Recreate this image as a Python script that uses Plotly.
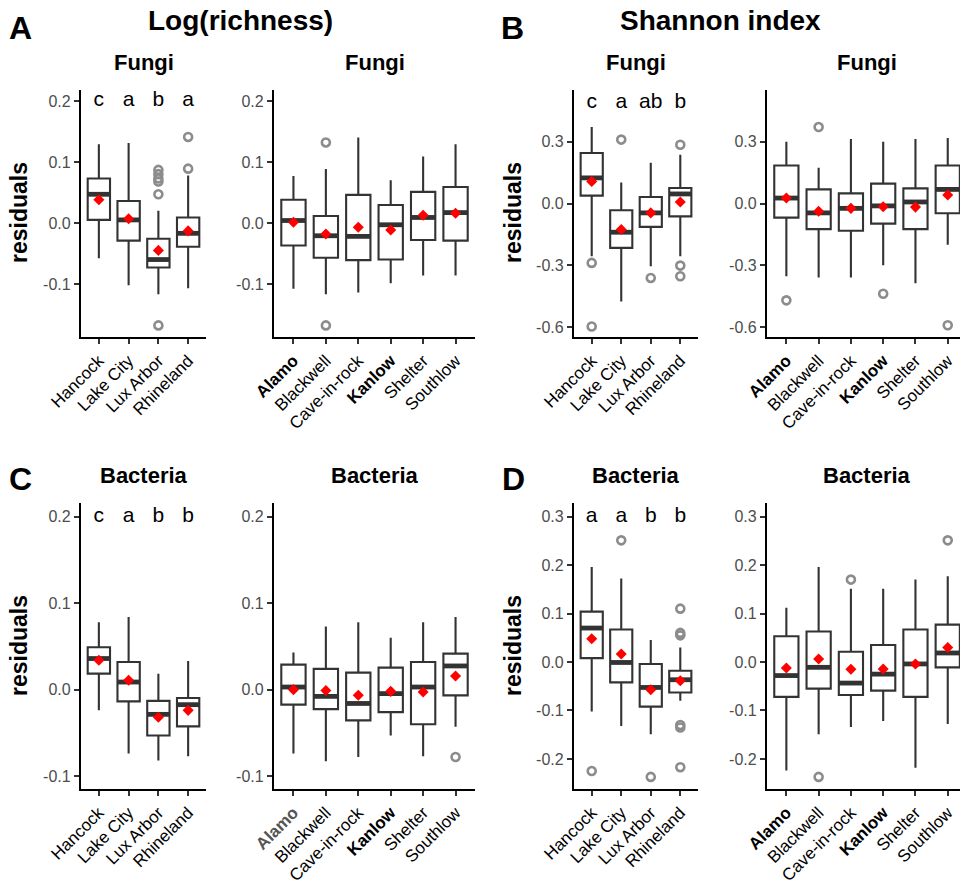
import plotly.graph_objects as go

W, H = 960, 885
FONT = "Liberation Sans, Arial, sans-serif"

# ---------------- data ----------------
sites4 = ["Hancock", "Lake City", "Lux Arbor", "Rhineland"]
cult6 = ["Alamo", "Blackwell", "Cave-in-rock", "Kanlow", "Shelter", "Southlow"]
cult6_labels = ["<b>Alamo</b>", "Blackwell", "Cave-in-rock", "<b>Kanlow</b>", "Shelter", "Southlow"]
cult6_labels_c = ["<b><span style='color:#555555'>Alamo</span></b>", "Blackwell", "Cave-in-rock", "<b>Kanlow</b>", "Shelter", "Southlow"]

# Panel A left: Fungi log(richness) by site
A_L_low = [-0.058, -0.102, -0.117, -0.107]
A_L_q1 = [0.005, -0.029, -0.073, -0.039]
A_L_med = [0.047, 0.005, -0.060, -0.017]
A_L_q3 = [0.073, 0.036, -0.026, 0.009]
A_L_up = [0.129, 0.131, 0.020, 0.078]
A_L_mean = [0.038, 0.007, -0.045, -0.013]
A_L_out_cat = ["Lux Arbor", "Lux Arbor", "Lux Arbor", "Lux Arbor", "Lux Arbor", "Lux Arbor", "Rhineland", "Rhineland"]
A_L_out_val = [0.087, 0.080, 0.073, 0.068, 0.047, -0.168, 0.141, 0.089]
A_L_letters = ["c", "a", "b", "a"]

# Panel A right: Fungi log(richness) by cultivar
A_R_low = [-0.108, -0.117, -0.114, -0.099, -0.086, -0.086]
A_R_q1 = [-0.037, -0.057, -0.061, -0.060, -0.028, -0.029]
A_R_med = [0.004, -0.021, -0.022, -0.003, 0.009, 0.017]
A_R_q3 = [0.038, 0.0115, 0.046, 0.0295, 0.051, 0.059]
A_R_up = [0.077, 0.0885, 0.140, 0.070, 0.109, 0.129]
A_R_mean = [0.001, -0.018, -0.007, -0.0115, 0.0126, 0.016]
A_R_out_cat = ["Blackwell", "Blackwell"]
A_R_out_val = [0.132, -0.168]

# Panel B left: Fungi Shannon by site
B_L_low = [-0.256, -0.475, -0.304, -0.256]
B_L_q1 = [0.039, -0.215, -0.113, -0.062]
B_L_med = [0.125, -0.139, -0.045, 0.047]
B_L_q3 = [0.246, -0.032, 0.0325, 0.076]
B_L_up = [0.372, 0.103, 0.198, 0.238]
B_L_mean = [0.108, -0.126, -0.045, 0.008]
B_L_out_cat = ["Hancock", "Hancock", "Lake City", "Lux Arbor", "Rhineland", "Rhineland", "Rhineland"]
B_L_out_val = [-0.288, -0.597, 0.311, -0.361, 0.286, -0.301, -0.353]
B_L_letters = ["c", "a", "ab", "b"]

# Panel B right: Fungi Shannon by cultivar
B_R_low = [-0.353, -0.359, -0.359, -0.300, -0.387, -0.200]
B_R_q1 = [-0.068, -0.124, -0.132, -0.097, -0.124, -0.047]
B_R_med = [0.027, -0.045, -0.023, -0.011, 0.008, 0.069]
B_R_q3 = [0.185, 0.069, 0.050, 0.097, 0.074, 0.185]
B_R_up = [0.300, 0.174, 0.314, 0.300, 0.314, 0.319]
B_R_mean = [0.027, -0.037, -0.023, -0.015, -0.017, 0.042]
B_R_out_cat = ["Alamo", "Blackwell", "Kanlow", "Southlow"]
B_R_out_val = [-0.470, 0.372, -0.438, -0.591]

# Panel C left: Bacteria log(richness) by site
C_L_low = [-0.024, -0.074, -0.082, -0.077]
C_L_q1 = [0.0185, -0.0136, -0.053, -0.0425]
C_L_med = [0.036, 0.0088, -0.0286, -0.0174]
C_L_q3 = [0.049, 0.032, -0.013, -0.0097]
C_L_up = [0.078, 0.084, 0.0185, 0.033]
C_L_mean = [0.034, 0.0108, -0.032, -0.024]
C_L_out_cat = []
C_L_out_val = []
C_L_letters = ["c", "a", "b", "b"]

# Panel C right: Bacteria log(richness) by cultivar
C_R_low = [-0.074, -0.083, -0.078, -0.053, -0.077, -0.043]
C_R_q1 = [-0.0174, -0.0225, -0.0356, -0.026, -0.040, -0.0066]
C_R_med = [0.003, -0.0078, -0.016, -0.0046, 0.003, 0.0274]
C_R_q3 = [0.029, 0.024, 0.0197, 0.0255, 0.032, 0.0417]
C_R_up = [0.043, 0.073, 0.078, 0.060, 0.078, 0.084]
C_R_mean = [0.000, -0.001, -0.0066, -0.002, -0.0028, 0.0158]
C_R_out_cat = ["Southlow"]
C_R_out_val = [-0.078]

# Panel D left: Bacteria Shannon by site
D_L_low = [-0.102, -0.132, -0.149, -0.080]
D_L_q1 = [0.008, -0.042, -0.092, -0.063]
D_L_med = [0.070, -0.001, -0.0525, -0.0366]
D_L_q3 = [0.104, 0.067, -0.004, -0.018]
D_L_up = [0.196, 0.172, 0.0455, 0.030]
D_L_mean = [0.048, 0.0166, -0.0573, -0.0387]
D_L_out_cat = ["Hancock", "Lake City", "Lux Arbor", "Rhineland", "Rhineland", "Rhineland",
               "Rhineland", "Rhineland", "Rhineland"]
D_L_out_val = [-0.225, 0.251, -0.237, 0.110, 0.060, 0.055, -0.130, -0.135, -0.217]
D_L_letters = ["a", "a", "b", "b"]

# Panel D right: Bacteria Shannon by cultivar
D_R_low = [-0.224, -0.149, -0.134, -0.1215, -0.218, -0.128]
D_R_q1 = [-0.072, -0.055, -0.068, -0.059, -0.072, -0.011]
D_R_med = [-0.028, -0.011, -0.0435, -0.025, -0.004, 0.0186]
D_R_q3 = [0.053, 0.063, 0.021, 0.035, 0.067, 0.077]
D_R_up = [0.112, 0.196, 0.151, 0.151, 0.170, 0.177]
D_R_mean = [-0.0124, 0.006, -0.015, -0.0145, -0.004, 0.030]
D_R_out_cat = ["Blackwell", "Cave-in-rock", "Southlow"]
D_R_out_val = [-0.237, 0.170, 0.251]

# axis ticks
tick_rich = [-0.1, 0.0, 0.1, 0.2]
tick_rich_txt = ["-0.1", "0.0", "0.1", "0.2"]
tick_shF = [-0.6, -0.3, 0.0, 0.3]
tick_shF_txt = ["-0.6", "-0.3", "0.0", "0.3"]
tick_shB = [-0.2, -0.1, 0.0, 0.1, 0.2, 0.3]
tick_shB_txt = ["-0.2", "-0.1", "0.0", "0.1", "0.2", "0.3"]

# ---------------- layout helpers ----------------
def px_x(p):
    return p / W

def px_y(p):
    return 1 - p / H

BOX_W = 0.75
DARK = "#333333"

panels = [
    dict(cats=sites4, labels=sites4, low=A_L_low, q1=A_L_q1, med=A_L_med, q3=A_L_q3, up=A_L_up, mean=A_L_mean,
         oc=A_L_out_cat, ov=A_L_out_val, letters=A_L_letters, ly=0.2, xd=(81, 206), yd=(90, 337),
         yr=(-0.187, 0.218), xr=(0.4, 4.6), tv=tick_rich, tt=tick_rich_txt, title="Fungi", ty=62),
    dict(cats=cult6, labels=cult6_labels, low=A_R_low, q1=A_R_q1, med=A_R_med, q3=A_R_q3, up=A_R_up, mean=A_R_mean,
         oc=A_R_out_cat, ov=A_R_out_val, letters=None, ly=None, xd=(274, 475), yd=(90, 337),
         yr=(-0.187, 0.218), xr=(0.4, 6.6), tv=tick_rich, tt=tick_rich_txt, title="Fungi", ty=62),
    dict(cats=sites4, labels=sites4, low=B_L_low, q1=B_L_q1, med=B_L_med, q3=B_L_q3, up=B_L_up, mean=B_L_mean,
         oc=B_L_out_cat, ov=B_L_out_val, letters=B_L_letters, ly=0.49, xd=(574, 698), yd=(90, 337),
         yr=(-0.648, 0.552), xr=(0.4, 4.6), tv=tick_shF, tt=tick_shF_txt, title="Fungi", ty=62),
    dict(cats=cult6, labels=cult6_labels, low=B_R_low, q1=B_R_q1, med=B_R_med, q3=B_R_q3, up=B_R_up, mean=B_R_mean,
         oc=B_R_out_cat, ov=B_R_out_val, letters=None, ly=None, xd=(767, 960), yd=(90, 337),
         yr=(-0.648, 0.552), xr=(0.4, 6.38), tv=tick_shF, tt=tick_shF_txt, title="Fungi", ty=62, tcx=867),
    dict(cats=sites4, labels=sites4, low=C_L_low, q1=C_L_q1, med=C_L_med, q3=C_L_q3, up=C_L_up, mean=C_L_mean,
         oc=C_L_out_cat, ov=C_L_out_val, letters=C_L_letters, ly=0.2, xd=(81, 206), yd=(503, 789),
         yr=(-0.115, 0.216), xr=(0.4, 4.6), tv=tick_rich, tt=tick_rich_txt, title="Bacteria", ty=475),
    dict(cats=cult6, labels=cult6_labels_c, low=C_R_low, q1=C_R_q1, med=C_R_med, q3=C_R_q3, up=C_R_up, mean=C_R_mean,
         oc=C_R_out_cat, ov=C_R_out_val, letters=None, ly=None, xd=(274, 475), yd=(503, 789),
         yr=(-0.115, 0.216), xr=(0.4, 6.6), tv=tick_rich, tt=tick_rich_txt, title="Bacteria", ty=475),
    dict(cats=sites4, labels=sites4, low=D_L_low, q1=D_L_q1, med=D_L_med, q3=D_L_q3, up=D_L_up, mean=D_L_mean,
         oc=D_L_out_cat, ov=D_L_out_val, letters=D_L_letters, ly=0.3, xd=(574, 698), yd=(503, 789),
         yr=(-0.262, 0.328), xr=(0.4, 4.6), tv=tick_shB, tt=tick_shB_txt, title="Bacteria", ty=475),
    dict(cats=cult6, labels=cult6_labels, low=D_R_low, q1=D_R_q1, med=D_R_med, q3=D_R_q3, up=D_R_up, mean=D_R_mean,
         oc=D_R_out_cat, ov=D_R_out_val, letters=None, ly=None, xd=(767, 960), yd=(503, 789),
         yr=(-0.262, 0.328), xr=(0.4, 6.38), tv=tick_shB, tt=tick_shB_txt, title="Bacteria", ty=475, tcx=867),
]

fig = go.Figure()
layout = dict(
    width=W, height=H, margin=dict(l=0, r=0, t=0, b=0, pad=0, autoexpand=False),
    paper_bgcolor="white", plot_bgcolor="white", showlegend=False,
    font=dict(family=FONT, color="black"),
)
annotations = []

for i, p in enumerate(panels):
    n = i + 1
    xa = "x" if n == 1 else f"x{n}"
    ya = "y" if n == 1 else f"y{n}"
    pos = list(range(1, len(p["cats"]) + 1))
    idx = {c: k + 1 for k, c in enumerate(p["cats"])}

    fig.add_trace(go.Box(
        x=pos, q1=p["q1"], median=p["med"], q3=p["q3"],
        lowerfence=p["low"], upperfence=p["up"],
        width=BOX_W, whiskerwidth=0, boxpoints=False,
        fillcolor="white", line=dict(color=DARK, width=2.1),
        xaxis=xa, yaxis=ya, hoverinfo="skip",
    ))
    # thick median lines
    mx, my = [], []
    for xp, m in zip(pos, p["med"]):
        mx += [xp - BOX_W / 2, xp + BOX_W / 2, None]
        my += [m, m, None]
    fig.add_trace(go.Scatter(x=mx, y=my, mode="lines", line=dict(color=DARK, width=4.8),
                             xaxis=xa, yaxis=ya, hoverinfo="skip"))
    # outliers
    if p["oc"]:
        fig.add_trace(go.Scatter(
            x=[idx[c] for c in p["oc"]], y=p["ov"], mode="markers",
            marker=dict(symbol="circle-open", size=8, color="#8c8c8c", line=dict(width=2.6, color="#8c8c8c")),
            xaxis=xa, yaxis=ya, hoverinfo="skip"))
    # means
    fig.add_trace(go.Scatter(
        x=pos, y=p["mean"], mode="markers",
        marker=dict(symbol="diamond", size=8.5, color="#ff0000", line=dict(width=0)),
        xaxis=xa, yaxis=ya, hoverinfo="skip"))
    # significance letters
    if p["letters"]:
        fig.add_trace(go.Scatter(
            x=pos, y=[p["ly"]] * len(pos), mode="text", text=p["letters"],
            textfont=dict(size=21, color="black", family=FONT), textposition="middle center",
            xaxis=xa, yaxis=ya, hoverinfo="skip"))

    axis_common = dict(showgrid=False, zeroline=False, showline=True, linecolor="black", linewidth=2.2,
                       ticks="outside", tickcolor=DARK, tickwidth=2, ticklen=5, automargin=False)
    layout["xaxis" if n == 1 else f"xaxis{n}"] = dict(
        axis_common, domain=[px_x(p["xd"][0]), px_x(p["xd"][1])], range=list(p["xr"]),
        anchor=ya, tickmode="array", tickvals=pos, ticktext=p["labels"], tickangle=-45,
        tickfont=dict(size=17, color="black", family=FONT))
    layout["yaxis" if n == 1 else f"yaxis{n}"] = dict(
        axis_common, domain=[px_y(p["yd"][1]), px_y(p["yd"][0])], range=list(p["yr"]),
        anchor=xa, tickmode="array", tickvals=p["tv"], ticktext=p["tt"],
        tickfont=dict(size=16, color="#4d4d4d", family=FONT))
    cx = p.get("tcx", (p["xd"][0] + p["xd"][1]) / 2)
    annotations.append(dict(text="<b>" + p["title"] + "</b>", x=px_x(cx), y=px_y(p["ty"]),
                            xref="paper", yref="paper", showarrow=False, xanchor="center", yanchor="middle",
                            font=dict(size=22, color="black", family=FONT)))

# y-axis titles
for (x, y) in [(19, 213), (513, 213), (19, 646), (513, 646)]:
    annotations.append(dict(text="<b>residuals</b>", x=px_x(x), y=px_y(y), xref="paper", yref="paper",
                            showarrow=False, textangle=-90, xanchor="center", yanchor="middle",
                            font=dict(size=23, color="black", family=FONT)))
# main titles
for txt, x in [("Log(richness)", 240), ("Shannon index", 720)]:
    annotations.append(dict(text="<b>" + txt + "</b>", x=px_x(x), y=px_y(21), xref="paper", yref="paper",
                            showarrow=False, xanchor="center", yanchor="middle",
                            font=dict(size=28, color="black", family=FONT)))
# panel letters
for txt, x, y in [("A", 20, 28), ("B", 512, 28), ("C", 20, 479), ("D", 513, 479)]:
    annotations.append(dict(text="<b>" + txt + "</b>", x=px_x(x), y=px_y(y), xref="paper", yref="paper",
                            showarrow=False, xanchor="center", yanchor="middle",
                            font=dict(size=32, color="black", family=FONT)))

layout["annotations"] = annotations
fig.update_layout(**layout)
fig.write_html("out.html", config={"displayModeBar": False},
               post_script="document.body.style.margin='0';document.body.style.overflow='hidden';")
